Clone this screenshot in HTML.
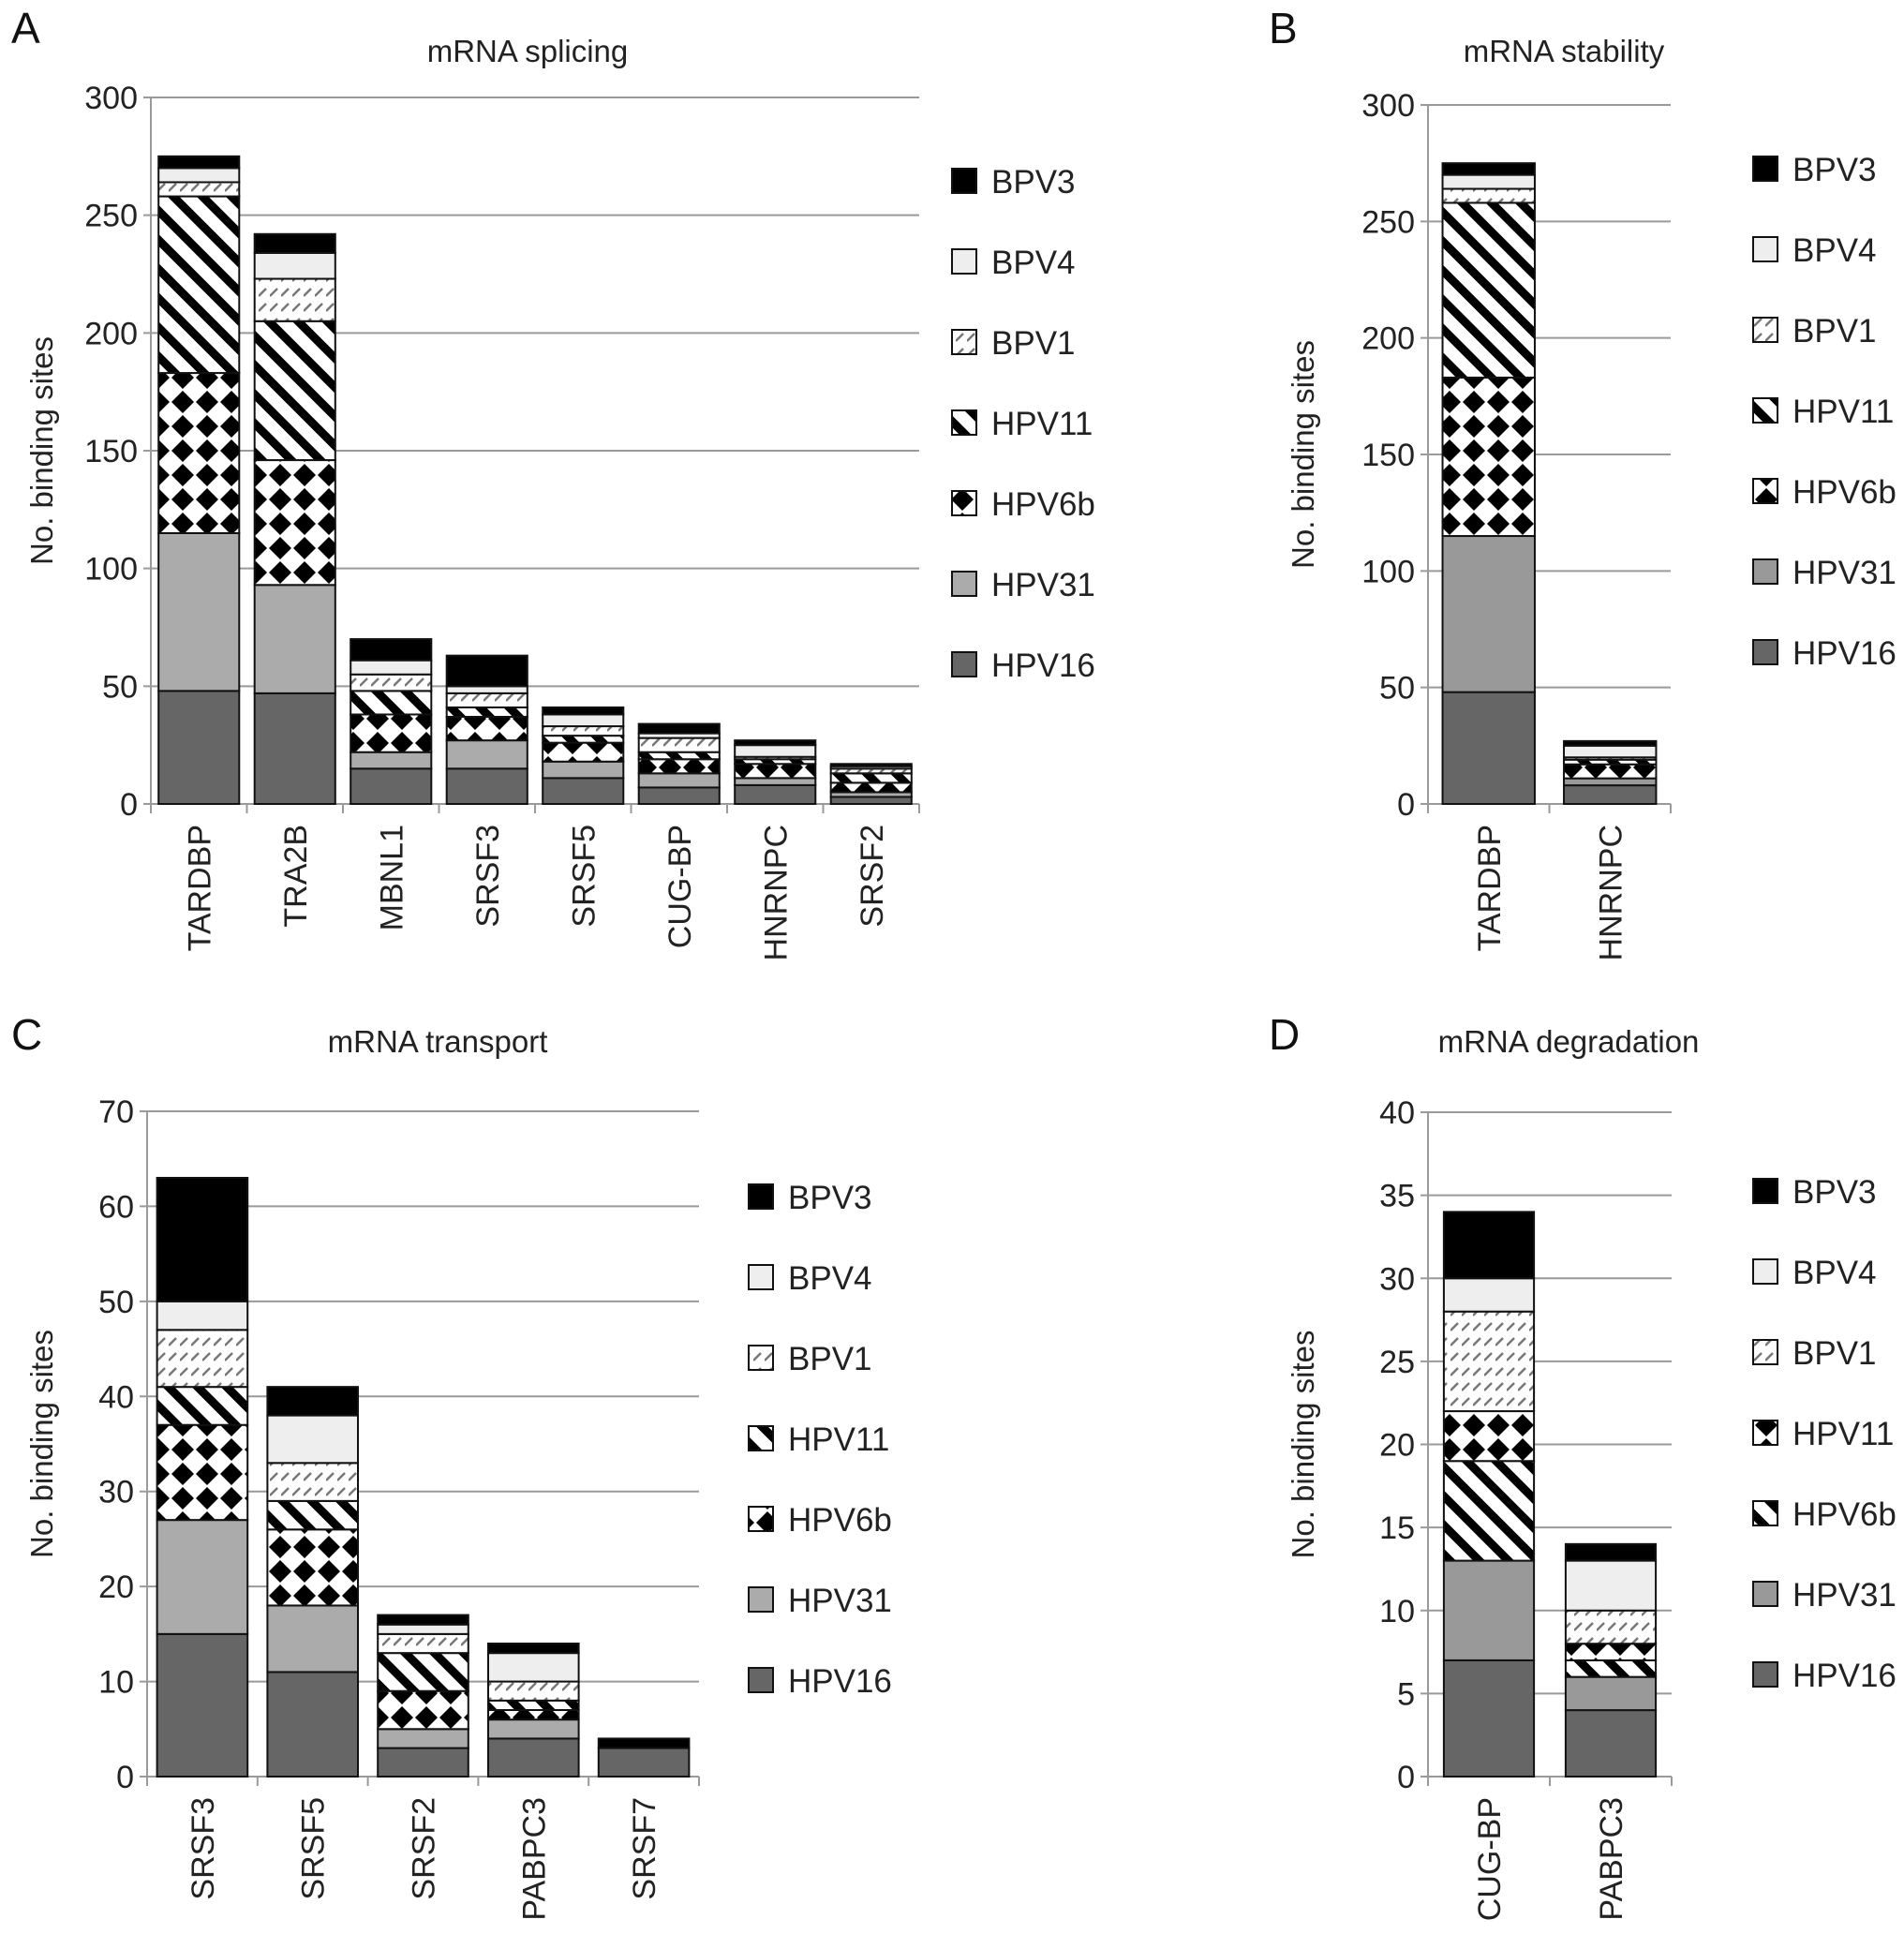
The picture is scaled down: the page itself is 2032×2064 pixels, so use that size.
<!DOCTYPE html>
<html><head><meta charset="utf-8">
<style>
html,body{margin:0;padding:0;background:#fff}
svg{display:block;font-family:"Liberation Sans",Arial,sans-serif}
</style></head>
<body>
<svg id="fig" width="2032" height="2064" viewBox="0 0 2032 2064" xmlns="http://www.w3.org/2000/svg">
<defs>
<pattern id="pDiam" width="26" height="26" patternUnits="userSpaceOnUse">
<rect width="26" height="26" fill="#fff"/>
<polygon points="13,1 25,13 13,25 1,13" fill="#000"/>
</pattern>
<pattern id="pDiag" width="22" height="22" patternUnits="userSpaceOnUse" patternTransform="rotate(-45)">
<rect width="22" height="22" fill="#fff"/>
<rect x="0" y="0" width="9" height="22" fill="#000"/>
</pattern>
<pattern id="pHatch" width="12" height="16" patternUnits="userSpaceOnUse">
<rect width="12" height="16" fill="#fff"/>
<line x1="0" y1="12" x2="8" y2="4" stroke="#777" stroke-width="2.5"/>
</pattern>
</defs>
</svg>
<script>
// ---- Panel A: mRNA splicing ----
const aCats = ["TARDBP","TRA2B","MBNL1","SRSF3","SRSF5","CUG-BP","HNRNPC","SRSF2"];
const aHPV16 = [48,47,15,15,11,7,8,3];
const aHPV31 = [67,46,7,12,7,6,3,2];
const aHPV6b = [68,53,16,10,8,6,6,4];
const aHPV11 = [75,59,10,4,3,3,2,4];
const aBPV1 = [6,18,7,6,4,6,1,2];
const aBPV4 = [6,11,6,3,5,2,5,1];
const aBPV3 = [5,8,9,13,3,4,2,1];
const aTicks = [0,50,100,150,200,250,300];
// ---- Panel B: mRNA stability ----
const bCats = ["TARDBP","HNRNPC"];
const bHPV16 = [48,8];
const bHPV31 = [67,3];
const bHPV6b = [68,6];
const bHPV11 = [75,2];
const bBPV1 = [6,1];
const bBPV4 = [6,5];
const bBPV3 = [5,2];
const bTicks = [0,50,100,150,200,250,300];
// ---- Panel C: mRNA transport ----
const cCats = ["SRSF3","SRSF5","SRSF2","PABPC3","SRSF7"];
const cHPV16 = [15,11,3,4,3];
const cHPV31 = [12,7,2,2,0];
const cHPV6b = [10,8,4,1,0];
const cHPV11 = [4,3,4,1,0];
const cBPV1 = [6,4,2,2,0];
const cBPV4 = [3,5,1,3,0];
const cBPV3 = [13,3,1,1,1];
const cTicks = [0,10,20,30,40,50,60,70];
// ---- Panel D: mRNA degradation ----
const dCats = ["CUG-BP","PABPC3"];
const dHPV16 = [7,4];
const dHPV31 = [6,2];
const dHPV6b = [6,1];
const dHPV11 = [3,1];
const dBPV1 = [6,2];
const dBPV4 = [2,3];
const dBPV3 = [4,1];
const dTicks = [0,5,10,15,20,25,30,35,40];

const NS = "http://www.w3.org/2000/svg";
const svg = document.getElementById("fig");
function mk(tag, attrs, parent, text){
  const e = document.createElementNS(NS, tag);
  for (const k in attrs) e.setAttribute(k, attrs[k]);
  if (text !== undefined) e.textContent = text;
  (parent||svg).appendChild(e);
  return e;
}
const fillNormal = {HPV16:"#666", HPV31:"#ababab", HPV6b:"url(#pDiam)", HPV11:"url(#pDiag)", BPV1:"url(#pHatch)", BPV4:"#eee", BPV3:"#000"};
const fillB = {HPV16:"#666", HPV31:"#999", HPV6b:"url(#pDiam)", HPV11:"url(#pDiag)", BPV1:"url(#pHatch)", BPV4:"#eee", BPV3:"#000"};
const fillSwap = {HPV16:"#666", HPV31:"#999", HPV6b:"url(#pDiag)", HPV11:"url(#pDiam)", BPV1:"url(#pHatch)", BPV4:"#eee", BPV3:"#000"};

function panel(p){
  const g = mk("g", {});
  
  
  const maxV = p.ticks[p.ticks.length-1];
  const ys = v => p.y0 - (v/maxV)*(p.y0 - p.yTop);
  const cw = (p.x1 - p.x0)/p.cats.length;
  const xs = i => p.x0 + cw*(i+0.5);
  const L = mk("text", {x:p.lx, y:p.ly, "font-size":46, fill:"#111"}, g, p.letter);
  
  
  const T = mk("text", {x:p.tx, y:p.ty, "font-size":33, fill:"#222", "text-anchor":"middle"}, g, p.title);
  
  
  p.ticks.forEach(t => {
    const y = ys(t);
    if (t > 0) {
      const gl = mk("line", {x1:p.x0-8, y1:y, x2:p.x1, y2:y, stroke:"#9a9a9a", "stroke-width":2}, g);
      
      
    } else {
      mk("line", {x1:p.x0-8, y1:y, x2:p.x0, y2:y, stroke:"#9a9a9a", "stroke-width":2}, g);
    }
    const tl = mk("text", {x:p.x0-14, y:y+12, "font-size":34, fill:"#222", "text-anchor":"end"}, g, String(t));
    
    
  });
  const ya = mk("line", {x1:p.x0, y1:ys(maxV), x2:p.x0, y2:p.y0+10, stroke:"#9a9a9a", "stroke-width":2}, g);
  
  
  const xa = mk("line", {x1:p.x0, y1:p.y0, x2:p.x1, y2:p.y0, stroke:"#9a9a9a", "stroke-width":2}, g);
  
  
  for (let i=1;i<=p.cats.length;i++){
    mk("line", {x1:p.x0+cw*i, y1:p.y0, x2:p.x0+cw*i, y2:p.y0+10, stroke:"#9a9a9a", "stroke-width":2}, g);
  }
  const yt = mk("text", {x:0, y:0, "font-size":33, fill:"#222", "text-anchor":"middle", transform:`translate(${p.ytx},${(ys(maxV)+p.y0)/2}) rotate(-90)`}, g, "No. binding sites");
  
  
  const order = ["HPV16","HPV31","HPV6b","HPV11","BPV1","BPV4","BPV3"];
  const bw = cw*p.bwr;
  p.cats.forEach((c,i) => {
    let acc = 0;
    order.forEach(s => {
      const v = p.series[s][i];
      if (v <= 0) return;
      const yTopS = ys(acc+v), yBot = ys(acc);
      const r = mk("rect", {x:xs(i)-bw/2, y:yTopS, width:bw, height:yBot-yTopS, fill:p.fills[s], stroke:"#111", "stroke-width":2}, g);
      
      
      acc += v;
    });
    const xl = mk("text", {x:0, y:0, "font-size":34, fill:"#222", "text-anchor":"end", transform:`translate(${xs(i)+12},${p.y0+22}) rotate(-90)`}, g, c);
    
    
  });
  const lorder = ["BPV3","BPV4","BPV1","HPV11","HPV6b","HPV31","HPV16"];
  lorder.forEach((s,k) => {
    const y = p.legY + 86*k;
    const sw = mk("rect", {x:p.legX, y:y-13, width:26, height:26, fill:p.fills[s], stroke:"#111", "stroke-width":2}, g);
    
    
    const lt = mk("text", {x:p.legX+42, y:y+13, "font-size":35, fill:"#222"}, g, s);
    
    
  });
}

panel({id:"splicing", letter:"A", title:"mRNA splicing", lx:12, ly:46, tx:563, ty:66,
  cats:aCats, series:{HPV16:aHPV16,HPV31:aHPV31,HPV6b:aHPV6b,HPV11:aHPV11,BPV1:aBPV1,BPV4:aBPV4,BPV3:aBPV3},
  ticks:aTicks, x0:161, x1:981, yTop:104, y0:858, bwr:0.84, ytx:56, legX:1016, legY:193, fills:fillNormal});
panel({id:"stability", letter:"B", title:"mRNA stability", lx:1354, ly:46, tx:1669, ty:66,
  cats:bCats, series:{HPV16:bHPV16,HPV31:bHPV31,HPV6b:bHPV6b,HPV11:bHPV11,BPV1:bBPV1,BPV4:bBPV4,BPV3:bBPV3},
  ticks:bTicks, x0:1524, x1:1783, yTop:112, y0:858, bwr:0.76, ytx:1402, legX:1871, legY:180, fills:fillB});
panel({id:"transport", letter:"C", title:"mRNA transport", lx:12, ly:1120, tx:467, ty:1123,
  cats:cCats, series:{HPV16:cHPV16,HPV31:cHPV31,HPV6b:cHPV6b,HPV11:cHPV11,BPV1:cBPV1,BPV4:cBPV4,BPV3:cBPV3},
  ticks:cTicks, x0:157, x1:746, yTop:1186, y0:1896, bwr:0.82, ytx:56, legX:799, legY:1277, fills:fillNormal});
panel({id:"degradation", letter:"D", title:"mRNA degradation", lx:1354, ly:1120, tx:1674, ty:1123,
  cats:dCats, series:{HPV16:dHPV16,HPV31:dHPV31,HPV6b:dHPV6b,HPV11:dHPV11,BPV1:dBPV1,BPV4:dBPV4,BPV3:dBPV3},
  ticks:dTicks, x0:1524, x1:1784, yTop:1187, y0:1896, bwr:0.74, ytx:1402, legX:1871, legY:1271, fills:fillSwap});
</script>
</body></html>
